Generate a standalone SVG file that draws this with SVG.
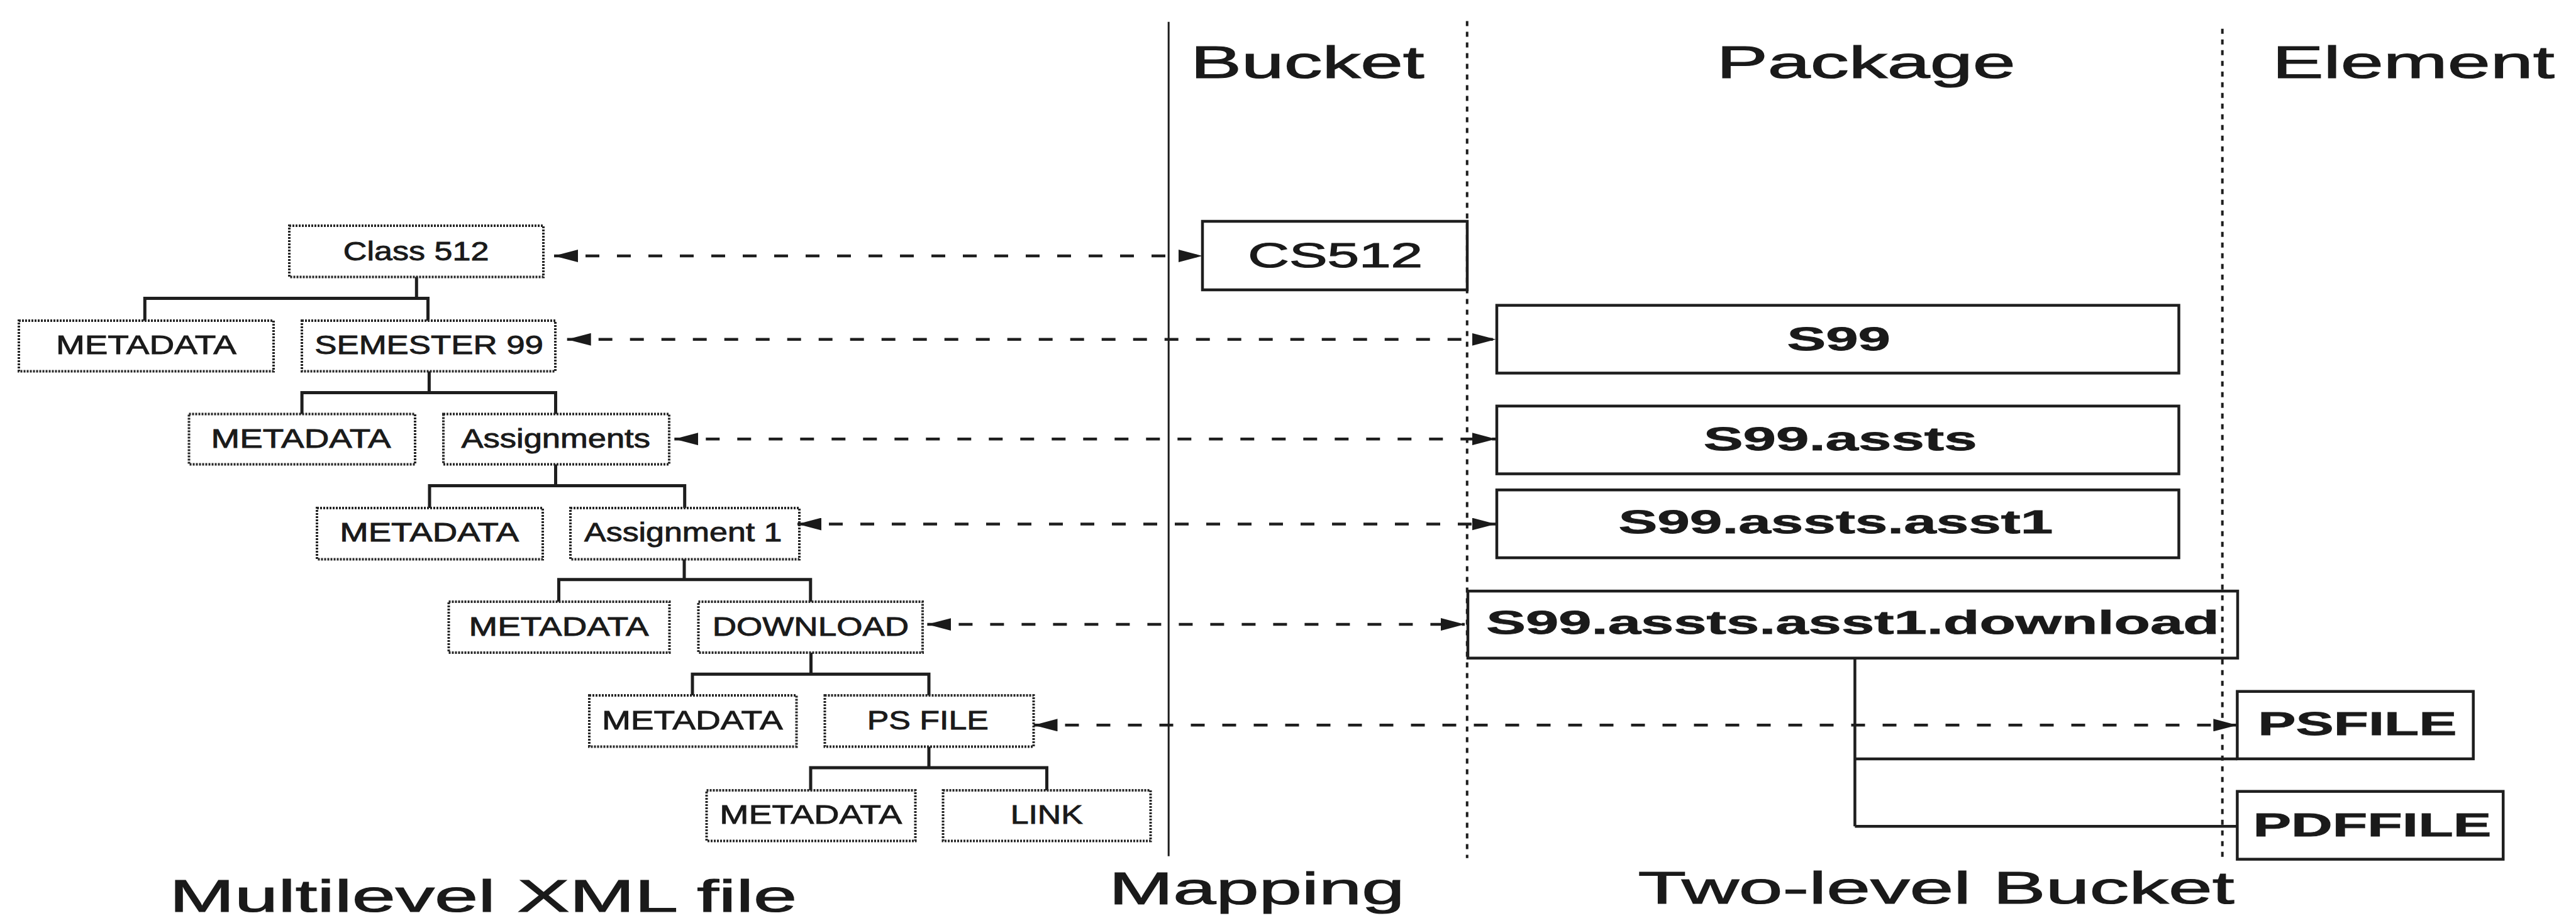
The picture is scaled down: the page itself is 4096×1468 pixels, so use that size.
<svg xmlns="http://www.w3.org/2000/svg" width="4096" height="1468" viewBox="0 0 4096 1468">
<style>
.tbox{fill:none;stroke:#262626;stroke-width:4;stroke-dasharray:3 2}
.sbox{fill:none;stroke:#1e1e1e;stroke-width:4.5}
.tree{fill:none;stroke:#1e1e1e;stroke-width:5}
.sep{fill:none;stroke:#1e1e1e;stroke-width:3}
.sepd{fill:none;stroke:#1e1e1e;stroke-width:4;stroke-dasharray:8 9}
.map{fill:none;stroke:#1e1e1e;stroke-width:4.5;stroke-dasharray:22 28;marker-start:url(#ah);marker-end:url(#ah)}
.t{font-family:"Liberation Sans",Arial,sans-serif;font-size:42px;fill:#1a1a1a;stroke:#1a1a1a;stroke-width:0.9;text-anchor:middle}
.b{font-family:"Liberation Sans",Arial,sans-serif;font-size:51px;font-weight:bold;fill:#1a1a1a;stroke:#1a1a1a;stroke-width:0.8;text-anchor:middle}
.c{font-family:"Liberation Sans",Arial,sans-serif;font-size:55px;fill:#1a1a1a;stroke:#1a1a1a;stroke-width:1.2;text-anchor:middle}
.h{font-family:"Liberation Sans",Arial,sans-serif;font-size:73px;fill:#1a1a1a;stroke:#1a1a1a;stroke-width:1.2;text-anchor:middle}
</style>
<defs>
<marker id="ah" viewBox="0 0 38 20" refX="38" refY="10" markerWidth="38" markerHeight="20" markerUnits="userSpaceOnUse" orient="auto-start-reverse">
<path d="M0,0 L38,10 L0,20 Z" fill="#1a1a1a"/>
</marker>
</defs>
<rect width="4096" height="1468" fill="#fff"/>

<g id="separators">
<path class="sep" d="M1858.2,34.7 V1361.7"/>
<path class="sepd" d="M2332.8,33.5 V1364.7"/>
<path class="sepd" d="M3533.7,45.7 V1364.7"/>
</g>

<g id="headers">
<text class="h" x="2078.8" y="124.3" textLength="371.6" lengthAdjust="spacingAndGlyphs">Bucket</text>
<text class="h" x="2967" y="123.7" textLength="475.2" lengthAdjust="spacingAndGlyphs">Package</text>
<text class="h" x="3837.4" y="123.7" textLength="449" lengthAdjust="spacingAndGlyphs">Element</text>
<text class="h" x="768.3" y="1450" textLength="998" lengthAdjust="spacingAndGlyphs">Multilevel XML file</text>
<text class="h" x="1998.3" y="1437.8" textLength="470.3" lengthAdjust="spacingAndGlyphs">Mapping</text>
<text class="h" x="3078.5" y="1436.6" textLength="948" lengthAdjust="spacingAndGlyphs">Two-level Bucket</text>
</g>

<g id="connectors">
<path class="tree" d="M662.3,440.5 V474.6 M230.3,510 V474.6 H680.5 V510"/>
<path class="tree" d="M682.4,590.5 V624.5 M480.1,658.5 V624.5 H883.5 V658.5"/>
<path class="tree" d="M883.5,738.5 V772.5 M683,808 V772.5 H1088.7 V808"/>
<path class="tree" d="M1088,889.5 V921.8 M888.5,957 V921.8 H1288.8 V957"/>
<path class="tree" d="M1289.5,1038 V1072.3 M1101,1106 V1072.3 H1477 V1106"/>
<path class="tree" d="M1477,1187.5 V1221 M1289,1257 V1221 H1664.5 V1257"/>
<path class="sbox" d="M2949.4,1046.7 V1314.2 M2949.4,1206.9 H3557.4 M2949.4,1314.2 H3557.4"/>
<path class="map" d="M881,407 H1911.8"/>
<path class="map" d="M901.7,539.8 H2378.5"/>
<path class="map" d="M1072.3,698.2 H2378.5"/>
<path class="map" d="M1268,833.5 H2378.5"/>
<path class="map" d="M1474.4,993.1 H2329"/>
<path class="map" d="M1643.5,1153.3 H3557.4"/>
</g>

<g id="class512"><rect class="tbox" x="460" y="359" width="404" height="81.5"/><text class="t" x="661.6" y="414" textLength="231.5" lengthAdjust="spacingAndGlyphs">Class 512</text></g>
<g id="meta1"><rect class="tbox" x="30" y="510" width="405" height="80.5"/><text class="t" x="232.4" y="563" textLength="287" lengthAdjust="spacingAndGlyphs">METADATA</text></g>
<g id="semester99"><rect class="tbox" x="480" y="510" width="403" height="80.5"/><text class="t" x="682.1" y="563" textLength="363.7" lengthAdjust="spacingAndGlyphs">SEMESTER 99</text></g>
<g id="meta2"><rect class="tbox" x="300.5" y="658.5" width="359.5" height="80"/><text class="t" x="478.6" y="712" textLength="286" lengthAdjust="spacingAndGlyphs">METADATA</text></g>
<g id="assignments"><rect class="tbox" x="705" y="658.5" width="359" height="80"/><text class="t" x="883.7" y="712" textLength="300.4" lengthAdjust="spacingAndGlyphs">Assignments</text></g>
<g id="meta3"><rect class="tbox" x="504" y="808" width="359" height="81.5"/><text class="t" x="682.7" y="861" textLength="285" lengthAdjust="spacingAndGlyphs">METADATA</text></g>
<g id="assignment1"><rect class="tbox" x="907" y="808" width="364" height="81.5"/><text class="t" x="1086.3" y="861" textLength="314.4" lengthAdjust="spacingAndGlyphs">Assignment 1</text></g>
<g id="meta4"><rect class="tbox" x="713.5" y="957" width="351" height="81"/><text class="t" x="888.6" y="1011" textLength="286" lengthAdjust="spacingAndGlyphs">METADATA</text></g>
<g id="download"><rect class="tbox" x="1110.5" y="957" width="356.5" height="81"/><text class="t" x="1288.9" y="1011" textLength="312.5" lengthAdjust="spacingAndGlyphs">DOWNLOAD</text></g>
<g id="meta5"><rect class="tbox" x="937" y="1106" width="329.5" height="81.5"/><text class="t" x="1100.9" y="1160" textLength="288" lengthAdjust="spacingAndGlyphs">METADATA</text></g>
<g id="psfile-xml"><rect class="tbox" x="1311.5" y="1106" width="332" height="81.5"/><text class="t" x="1475.3" y="1160" textLength="193.1" lengthAdjust="spacingAndGlyphs">PS FILE</text></g>
<g id="meta6"><rect class="tbox" x="1123.5" y="1257" width="332" height="80.5"/><text class="t" x="1289.2" y="1310" textLength="290" lengthAdjust="spacingAndGlyphs">METADATA</text></g>
<g id="link"><rect class="tbox" x="1499.5" y="1257" width="330" height="80.5"/><text class="t" x="1664.2" y="1310" textLength="115.1" lengthAdjust="spacingAndGlyphs">LINK</text></g>

<g id="cs512"><rect class="sbox" x="1912" y="352" width="421" height="109"/><text class="c" x="2123.2" y="424.6" textLength="277.8" lengthAdjust="spacingAndGlyphs">CS512</text></g>
<g id="s99"><rect class="sbox" x="2380" y="485.6" width="1084.5" height="107.8"/><text class="b" x="2923.8" y="557" textLength="164.5" lengthAdjust="spacingAndGlyphs">S99</text></g>
<g id="s99-assts"><rect class="sbox" x="2380" y="645.8" width="1084.5" height="107.8"/><text class="b" x="2926.2" y="716" textLength="435" lengthAdjust="spacingAndGlyphs">S99.assts</text></g>
<g id="s99-assts-asst1"><rect class="sbox" x="2380" y="779.2" width="1084.5" height="107.9"/><text class="b" x="2918.9" y="848" textLength="690.9" lengthAdjust="spacingAndGlyphs">S99.assts.asst1</text></g>
<g id="s99-download"><rect class="sbox" x="2334" y="940.1" width="1224" height="106.6"/><text class="b" x="2946" y="1008.3" textLength="1165.5" lengthAdjust="spacingAndGlyphs">S99.assts.asst1.download</text></g>
<g id="psfile"><rect class="sbox" x="3557.4" y="1099.7" width="375.3" height="107.2"/><text class="b" x="3748.4" y="1168.5" textLength="316.2" lengthAdjust="spacingAndGlyphs">PSFILE</text></g>
<g id="pdffile"><rect class="sbox" x="3557.4" y="1258.7" width="422.8" height="107.9"/><text class="b" x="3771.9" y="1330" textLength="379" lengthAdjust="spacingAndGlyphs">PDFFILE</text></g>
</svg>
